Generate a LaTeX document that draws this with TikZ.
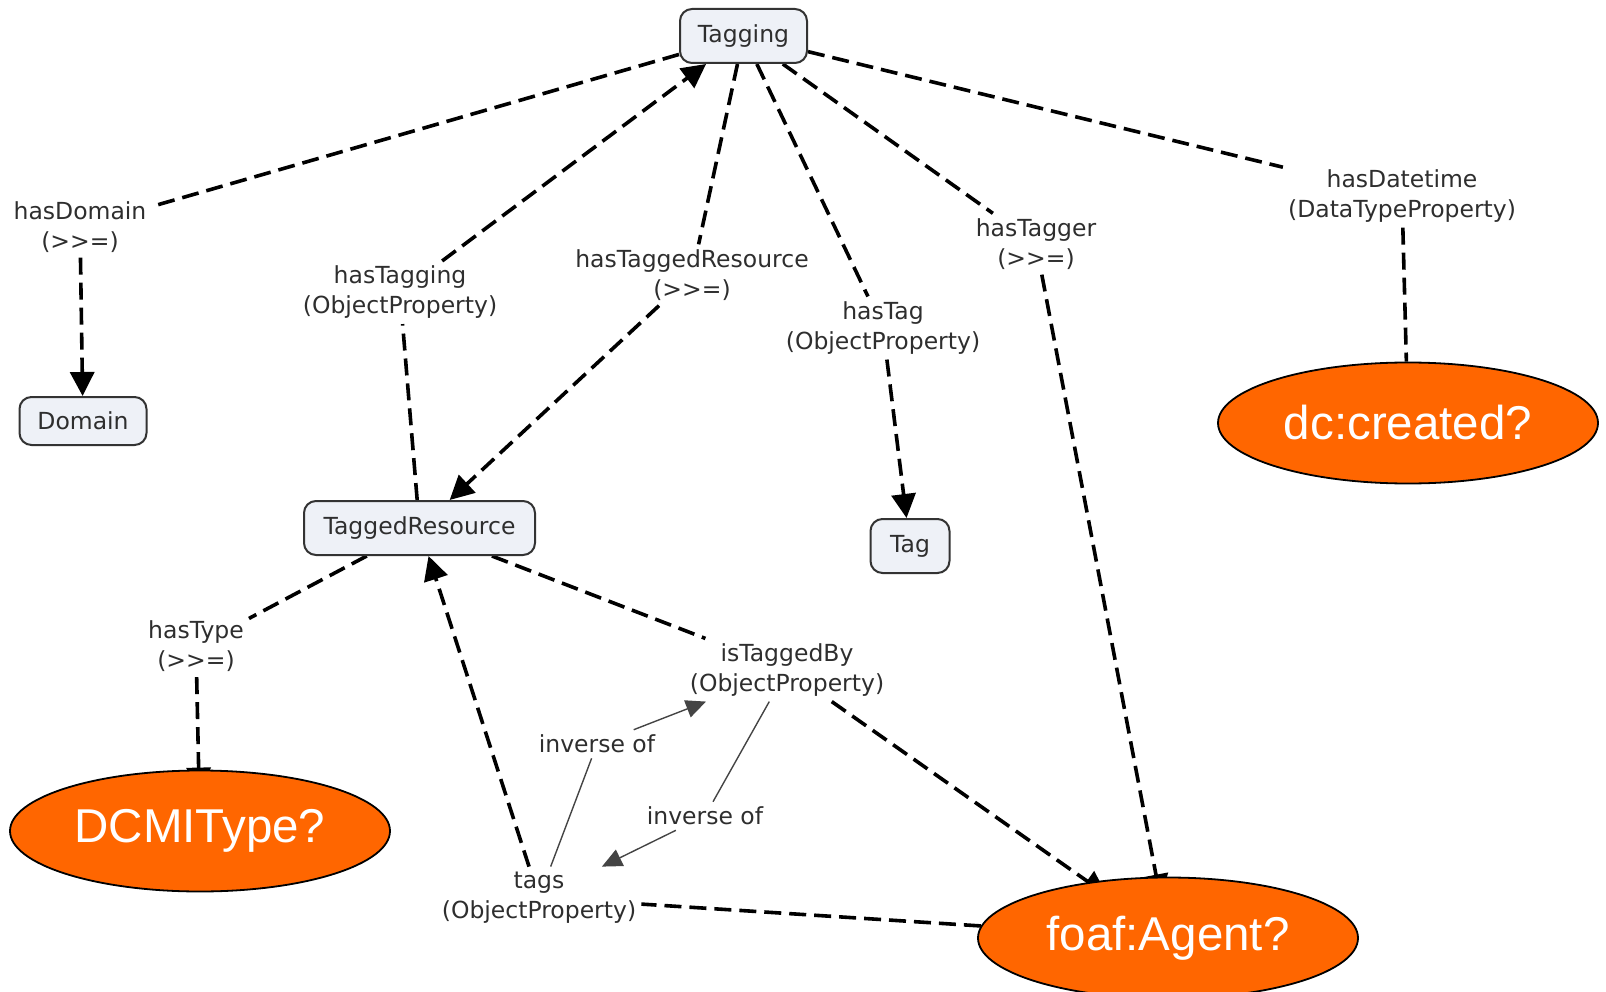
\documentclass[tikz,border=0pt]{standalone}
\usepackage{fontspec}
\setmainfont{DejaVu Sans}
\newfontfamily\ovalfont{Liberation Sans}
\usetikzlibrary{arrows.meta,shapes.geometric}
\pgfdeclarelayer{bg}
\pgfsetlayers{bg,main}
\definecolor{boxfill}{HTML}{EEF1F7}
\definecolor{boxline}{HTML}{333333}
\definecolor{txt}{HTML}{2E2E2E}
\definecolor{agentorange}{HTML}{FF6600}
\definecolor{invgray}{HTML}{444444}
\tikzset{
  concept/.style={draw=boxline, line width=2pt, fill=boxfill, rounded corners=12pt,
    text=txt, font=\fontsize{23.5}{30}\selectfont, inner sep=0pt},
  oval/.style={ellipse, draw=black, line width=1.8pt, fill=agentorange, text=white,
    font=\ovalfont\fontsize{47.5}{50}\selectfont, inner sep=0pt,
    minimum width=380pt, minimum height=121pt},
  link/.style={text=txt, font=\fontsize{23.5}{30}\selectfont, align=center, inner sep=5pt},
  rel/.style={line width=3.6pt, dash pattern=on 17pt off 8pt},
  relarrow/.style={rel, -{Triangle[length=24pt,width=24pt]}},
  hiddenarrow/.style={rel, shorten >=-22pt, -{Triangle[length=24pt,width=24pt]}},
  invline/.style={draw=invgray, line width=1.4pt},
  invarrow/.style={invline, -{Triangle[length=20pt,width=18pt]}}
}
\begin{document}
\begin{tikzpicture}[x=1pt,y=-1pt]
\useasboundingbox (0,0) rectangle (1606,992);
% concepts
\node[concept, minimum width=127pt, minimum height=54pt] (tagging) at (743.5,36) {Tagging};
\node[concept, minimum width=127pt, minimum height=48pt] (domain) at (83,421) {Domain};
\node[concept, minimum width=231pt, minimum height=54pt] (tres) at (419.5,528) {TaggedResource};
\node[concept, minimum width=79pt, minimum height=54pt] (tag) at (910,546) {Tag};
\node[oval] (dcmi) at (200,831) {DCMIType?};
\node[oval] (agent) at (1168,938) {foaf:Agent?};
\node[oval] (created) at (1408,423) {dc:created?};
% linking phrases
\node[link] (hasdomain) at (80,227) {hasDomain\\(>{}>=)};
\node[link] (hastagging) at (400,292.5) {hasTagging\\(ObjectProperty)};
\node[link] (hastres) at (692,275) {hasTaggedResource\\(>{}>=)};
\node[link] (hastag) at (883,328) {hasTag\\(ObjectProperty)};
\node[link] (hastagger) at (1036,244) {hasTagger\\(>{}>=)};
\node[link] (hasdatetime) at (1402,196) {hasDatetime\\(DataTypeProperty)};
\node[link] (hastype) at (196,646.5) {hasType\\(>{}>=)};
\node[link] (istaggedby) at (787,670) {isTaggedBy\\(ObjectProperty)};
\node[link] (tags) at (539,897.5) {tags\\(ObjectProperty)};
\node[link] (inv1) at (597,744) {inverse of};
\node[link] (inv2) at (705,816) {inverse of};
% connectors
\begin{pgfonlayer}{bg}
\draw[rel] (tagging) -- (hasdomain);
\draw[relarrow] (hasdomain) -- (domain);
\draw[rel] (tres) -- (hastagging);
\draw[relarrow] (hastagging) -- (tagging);
\draw[rel] (tagging) -- (hastres);
\draw[relarrow] (hastres) -- (tres);
\draw[rel] (tagging) -- (hastag);
\draw[relarrow] (hastag) -- (tag);
\draw[rel] (tagging) -- (hastagger);
\draw[hiddenarrow] (hastagger) -- (agent);
\draw[rel] (tagging) -- (hasdatetime);
\draw[rel] (hasdatetime) -- (created);
\draw[rel] (tres) -- (hastype);
\draw[hiddenarrow] (hastype) -- (dcmi);
\draw[rel] (tres) -- (istaggedby);
\draw[hiddenarrow] (istaggedby) -- (agent);
\draw[rel] (agent) -- (tags);
\draw[relarrow] (tags) -- (tres);
\draw[invline] (tags) -- (inv1);
\draw[invarrow] (inv1) -- (istaggedby);
\draw[invline] (istaggedby) -- (inv2);
\draw[invarrow] (inv2) -- (tags);
\end{pgfonlayer}
\end{tikzpicture}
\end{document}
